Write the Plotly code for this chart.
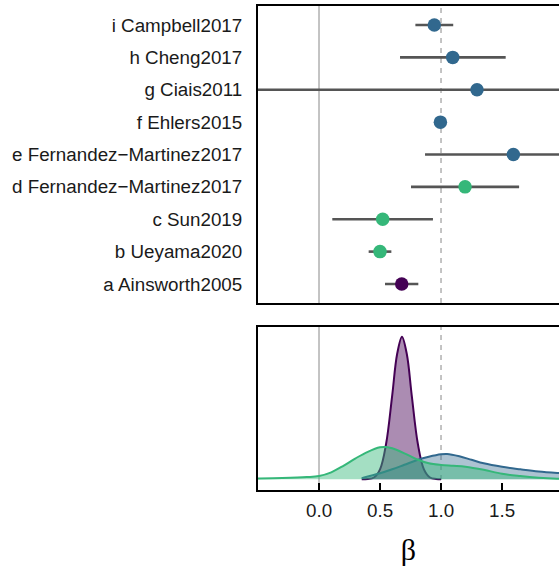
import plotly.graph_objects as go

# ---- data: forest plot (rows bottom -> top) ----
labels = ["a Ainsworth2005", "b Ueyama2020", "c Sun2019",
          "d Fernandez\u2212Martinez2017", "e Fernandez\u2212Martinez2017",
          "f Ehlers2015", "g Ciais2011", "h Cheng2017", "i Campbell2017"]
est = [0.678, 0.50, 0.522, 1.197, 1.593, 0.995, 1.295, 1.096, 0.945]
lo = [0.541, 0.407, 0.109, 0.754, 0.869, 0.985, -1.2, 0.664, 0.79]
hi = [0.814, 0.593, 0.934, 1.64, 2.35, 1.005, 3.8, 1.53, 1.10]
group = ["A", "B", "B", "B", "C", "C", "C", "C", "C"]

group_colors = {"A": "#440154", "B": "#35b779", "C": "#31688e"}
group_fills = {"A": "rgba(68,1,84,0.45)", "B": "rgba(53,183,121,0.45)", "C": "rgba(49,104,142,0.40)"}

# ---- data: densities (height above baseline, arbitrary units) ----
dens_x_A = [0.35, 0.40, 0.45, 0.50, 0.55, 0.60, 0.64, 0.68, 0.72, 0.76, 0.81, 0.86, 0.91, 0.96, 1.00]
dens_y_A = [0.0, 0.3, 1.8, 10, 35.5, 84, 125, 142.6, 125, 84, 35.5, 10, 1.8, 0.3, 0.0]

dens_x_C = [0.35, 0.40, 0.50, 0.60, 0.70, 0.80, 0.90, 1.00, 1.05, 1.15, 1.25, 1.35, 1.50, 1.65, 1.80, 1.97, 2.2, 2.5]
dens_y_C = [1.0, 2.8, 6.0, 10.0, 14.5, 19.0, 22.5, 25.0, 25.3, 23.0, 19.5, 16.0, 12.5, 10.0, 7.8, 6.2, 4.5, 3.0]

dens_x_B = [-0.7, -0.5, -0.3, -0.1, 0.0, 0.1, 0.2, 0.3, 0.4, 0.5, 0.55, 0.6, 0.7, 0.8, 0.9, 1.0,
            1.1, 1.2, 1.35, 1.5, 1.65, 1.8, 1.95, 2.1]
dens_y_B = [0.4, 0.7, 1.2, 2.2, 3.3, 7.0, 13.5, 21.0, 27.5, 32.0, 32.3, 31.0, 26.0, 20.0, 16.0, 14.3,
            13.5, 12.6, 9.5, 5.5, 3.2, 1.5, 0.5, 0.2]

tick_vals = [0.0, 0.5, 1.0, 1.5]
tick_text = ["0.0", "0.5", "1.0", "1.5"]

X_RANGE = [-0.5, 1.967]
FONT = "Liberation Sans"

fig = go.Figure()

# error bars
ex, ey = [], []
for i, (l, h) in enumerate(zip(lo, hi)):
    ex += [l, h, None]
    ey += [i, i, None]
fig.add_trace(go.Scatter(x=ex, y=ey, mode="lines", line=dict(color="#555555", width=2.6),
                         xaxis="x", yaxis="y", hoverinfo="skip", showlegend=False))
# points
fig.add_trace(go.Scatter(x=est, y=list(range(len(est))), mode="markers",
                         marker=dict(color=[group_colors[g] for g in group], size=13.5, line=dict(width=0)),
                         xaxis="x", yaxis="y", showlegend=False))

# densities
for g, dx, dy in [("A", dens_x_A, dens_y_A), ("C", dens_x_C, dens_y_C), ("B", dens_x_B, dens_y_B)]:
    fig.add_trace(go.Scatter(x=dx, y=dy, mode="lines", fill="tozeroy", fillcolor=group_fills[g],
                             line=dict(color=group_colors[g], width=2, shape="spline"),
                             xaxis="x2", yaxis="y2", showlegend=False))

shapes = []
for yref in ["y domain", "y2 domain"]:
    xref = "x" if yref == "y domain" else "x2"
    shapes.append(dict(type="line", xref=xref, yref=yref, x0=0, x1=0, y0=0, y1=1,
                       line=dict(color="#b5b5b5", width=1.6), layer="below"))
    shapes.append(dict(type="line", xref=xref, yref=yref, x0=1, x1=1, y0=0, y1=1,
                       line=dict(color="#b5b5b5", width=1.6, dash="5px,5px"), layer="below"))

x_dom = [258 / 559, 1.0]
fig.update_layout(
    width=559, height=575, margin=dict(l=0, r=0, t=0, b=0),
    paper_bgcolor="white", plot_bgcolor="white",
    shapes=shapes,
    xaxis=dict(domain=x_dom, range=X_RANGE, anchor="y", showticklabels=False, ticks="",
               showline=True, mirror=True, linecolor="black", linewidth=2,
               showgrid=False, zeroline=False),
    yaxis=dict(domain=[(575 - 303) / 575, (575 - 6) / 575], range=[-0.587, 8.587], anchor="x",
               tickvals=list(range(len(labels))), ticktext=labels, ticks="",
               tickfont=dict(family=FONT, size=18.8, color="#1a1a1a"), ticklabelstandoff=10,
               showline=True, mirror=False, linecolor="black", linewidth=2,
               showgrid=False, zeroline=False),
    xaxis2=dict(domain=x_dom, range=X_RANGE, anchor="y2", tickvals=tick_vals, ticktext=tick_text,
                ticks="inside", ticklen=7, tickwidth=1.5, tickcolor="black",
                tickfont=dict(family=FONT, size=18.8, color="#1a1a1a"), ticklabelstandoff=2,
                showline=True, mirror=True, linecolor="black", linewidth=2,
                showgrid=False, zeroline=False,
                title=dict(text="\u03b2", font=dict(family="Liberation Serif", size=30, color="black"),
                           standoff=19)),
    yaxis2=dict(domain=[(575 - 490) / 575, (575 - 327) / 575], range=[-10.7, 152.3], anchor="x2",
                showticklabels=False, ticks="", showline=True, mirror=False,
                linecolor="black", linewidth=2, showgrid=False, zeroline=False),
)

fig.write_html("out.html")
